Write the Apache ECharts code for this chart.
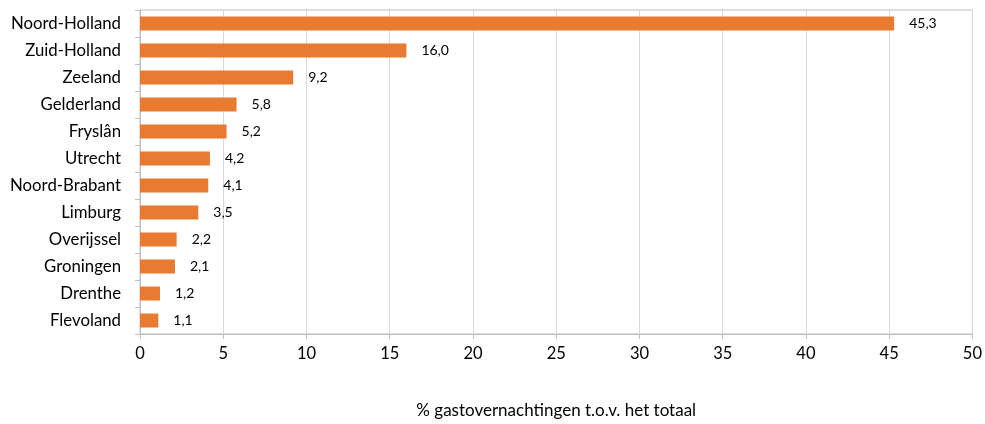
<!DOCTYPE html>
<html><head><meta charset="utf-8">
<script src="https://cdn.jsdelivr.net/npm/echarts@6/dist/echarts.min.js"></script>
<style>html,body{margin:0;padding:0;background:#fff}#c{width:985px;height:424px}</style>
</head><body><div id="c"></div>
<script>
const provinces = ['Noord-Holland','Zuid-Holland','Zeeland','Gelderland','Fryslân','Utrecht','Noord-Brabant','Limburg','Overijssel','Groningen','Drenthe','Flevoland'];
const shares = [45.3,16.0,9.2,5.8,5.2,4.2,4.1,3.5,2.2,2.1,1.2,1.1];
const axisTitle = '% gastovernachtingen t.o.v. het totaal';
const FONT = 'Lato, "Open Sans", sans-serif';
const chart = echarts.init(document.getElementById('c'));
chart.setOption({
  animation:false,
  grid:{left:140,right:12,top:10,bottom:88,show:true,borderColor:'#BFBFBF',borderWidth:1},
  xAxis:{type:'value',min:0,max:50,interval:5,
    name:axisTitle,nameLocation:'middle',nameGap:68,
    nameTextStyle:{fontFamily:FONT,fontSize:17,color:'#000'},
    axisLine:{show:true,lineStyle:{color:'#BFBFBF'}},
    axisTick:{show:true,length:5,lineStyle:{color:'#BFBFBF'}},
    axisLabel:{fontFamily:FONT,fontSize:16.5,color:'#000',margin:11},
    splitLine:{show:true,lineStyle:{color:'#D9D9D9'}}},
  yAxis:{type:'category',inverse:true,data:provinces,
    axisLine:{show:true,lineStyle:{color:'#BFBFBF'}},
    axisTick:{show:true,length:5,lineStyle:{color:'#BFBFBF'}},
    axisLabel:{fontFamily:FONT,fontSize:16.8,color:'#000',margin:19}},
  series:[{type:'bar',data:shares,barWidth:14,
    itemStyle:{color:'#E87A31'},
    label:{show:true,position:'right',distance:15,fontFamily:FONT,fontSize:14,color:'#000',
      formatter:p=>p.value.toFixed(1).replace('.',',')}}]
});
</script></body></html>
